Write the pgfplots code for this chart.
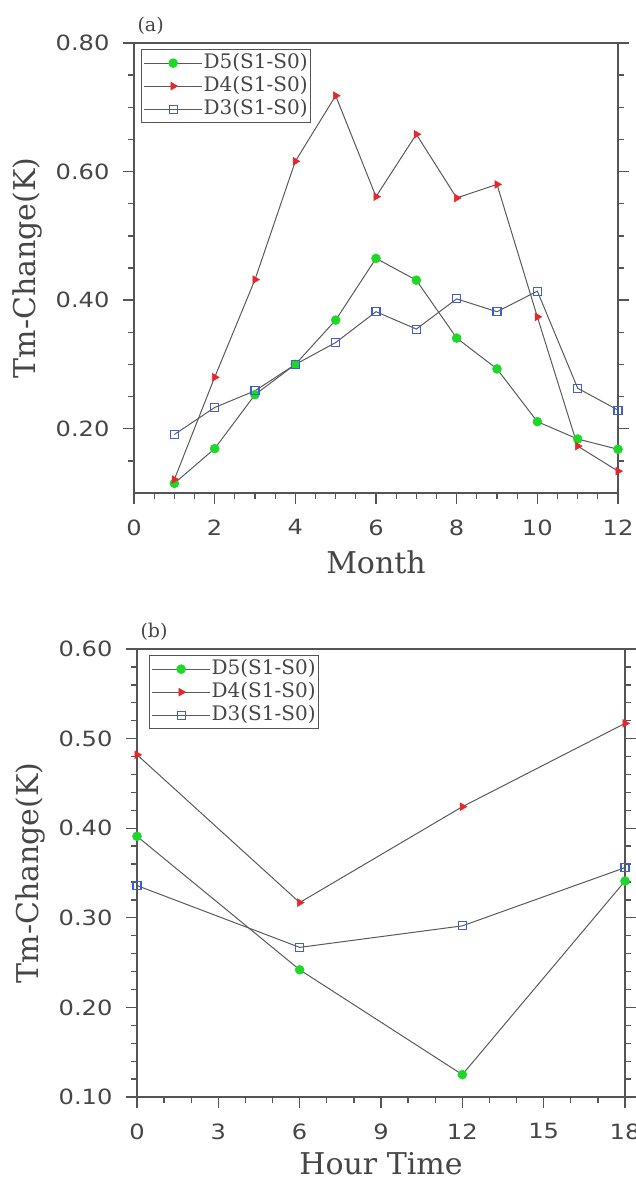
\documentclass[border=0pt]{standalone}
\usepackage{fontspec}
\setmainfont{DejaVu Serif}
\newfontfamily\tickfont[FakeStretch=1.15]{DejaVu Sans}
\usepackage{pgfplots}
\pgfplotsset{compat=1.18}
\definecolor{dgreen}{RGB}{30,215,40}
\definecolor{dred}{RGB}{230,40,45}
\definecolor{dblue}{RGB}{60,95,215}
\definecolor{axgray}{RGB}{85,85,85}
\definecolor{txtgray}{RGB}{70,70,70}
\definecolor{lngray}{RGB}{90,90,90}
\pgfplotsset{
  ncl/.style={
    scale only axis,
    clip=false,
    axis line style={axgray, line width=1.9pt},
    tick align=outside,
    xtick pos=lower, ytick pos=both,
    major tick length=11pt, minor tick length=6pt,
    tick style={axgray, line width=1.3pt},
    tick label style={font=\fontsize{21}{24}\selectfont\tickfont, text=txtgray},
    /pgf/number format/assume math mode=true,
    yticklabel style={xshift=-10pt, /pgf/number format/.cd, fixed, fixed zerofill, precision=2},
    xticklabel style={yshift=-12pt},
    label style={font=\fontsize{30}{34}\selectfont, text=txtgray, inner sep=0pt},
    title style={at={(axis description cs:0,1)}, anchor=south west, yshift=-1pt, font=\fontsize{19}{22}\selectfont, text=txtgray},
    legend cell align=left,
    legend style={at={(axis description cs:0,1)}, anchor=north west, xshift=7pt, yshift=-6pt,
      draw=axgray, line width=1.3pt, fill=white, inner sep=2pt,
      font=\fontsize{20}{22}\selectfont, text=txtgray, row sep=0pt,
      nodes={inner sep=1pt, text height=16pt, text depth=5pt}},
    legend image code/.code={\draw[mark repeat=2,mark phase=2,#1] plot coordinates {(0pt,0pt) (29pt,0pt) (58pt,0pt)};},
  },
  s5/.style={lngray, line width=1pt, mark=*, mark size=4.5pt, mark options={solid, draw=dgreen, fill=dgreen, line width=0.5pt}},
  s4/.style={lngray, line width=1pt, mark=triangle*, mark size=4.5pt, mark options={solid, rotate=-90, draw=dred, fill=dred, line width=0.5pt}},
  s3/.style={lngray, line width=1pt, mark=square, mark size=4pt, mark options={solid, draw=dblue, line width=1.1pt}},
}
\begin{document}
\begin{tikzpicture}
\useasboundingbox (0pt,0pt) rectangle (635pt,-1182pt);
% panel (a)
\begin{axis}[ncl,
  at={(134pt,-493pt)}, anchor=south west,
  width=484pt, height=450pt,
  xmin=0, xmax=12, ymin=0.10, ymax=0.80,
  xtick={0,2,4,6,8,10,12}, minor x tick num=3,
  ytick={0.2,0.4,0.6,0.8},
  minor ytick={0.15,0.25,0.3,0.35,0.45,0.5,0.55,0.65,0.7,0.75},
  xlabel={Month}, ylabel={Tm-Change(K)},
  x label style={at={(axis description cs:0.5,-0.153)}, anchor=center},
  y label style={at={(axis description cs:-0.221,0.5)}, anchor=center},
  title={(a)},
]
\addplot[s5] coordinates {(1,0.115)(2,0.169)(3,0.253)(4,0.300)(5,0.369)(6,0.465)(7,0.431)(8,0.341)(9,0.293)(10,0.211)(11,0.184)(12,0.168)};
\addlegendentry{D5(S1-S0)}
\addplot[s4] coordinates {(1,0.121)(2,0.280)(3,0.432)(4,0.616)(5,0.718)(6,0.561)(7,0.658)(8,0.559)(9,0.580)(10,0.374)(11,0.173)(12,0.134)};
\addlegendentry{D4(S1-S0)}
\addplot[s3] coordinates {(1,0.191)(2,0.233)(3,0.259)(4,0.300)(5,0.334)(6,0.382)(7,0.355)(8,0.402)(9,0.382)(10,0.414)(11,0.263)(12,0.229)};
\addlegendentry{D3(S1-S0)}
\end{axis}
% panel (b)
\begin{axis}[ncl,
  at={(137pt,-1097pt)}, anchor=south west,
  width=488pt, height=448pt,
  xmin=0, xmax=18, ymin=0.10, ymax=0.60,
  xtick={0,3,6,9,12,15,18}, minor x tick num=2,
  ytick={0.1,0.2,0.3,0.4,0.5,0.6}, minor y tick num=4,
  xlabel={Hour Time}, ylabel={Tm-Change(K)},
  x label style={at={(axis description cs:0.5,-0.149)}, anchor=center},
  y label style={at={(axis description cs:-0.219,0.5)}, anchor=center},
  legend style={xshift=5pt},
  title={(b)},
]
\addplot[s5] coordinates {(0,0.391)(6,0.242)(12,0.125)(18,0.341)};
\addlegendentry{D5(S1-S0)}
\addplot[s4] coordinates {(0,0.482)(6,0.317)(12,0.424)(18,0.517)};
\addlegendentry{D4(S1-S0)}
\addplot[s3] coordinates {(0,0.336)(6,0.267)(12,0.291)(18,0.356)};
\addlegendentry{D3(S1-S0)}
\end{axis}
\end{tikzpicture}
\end{document}
